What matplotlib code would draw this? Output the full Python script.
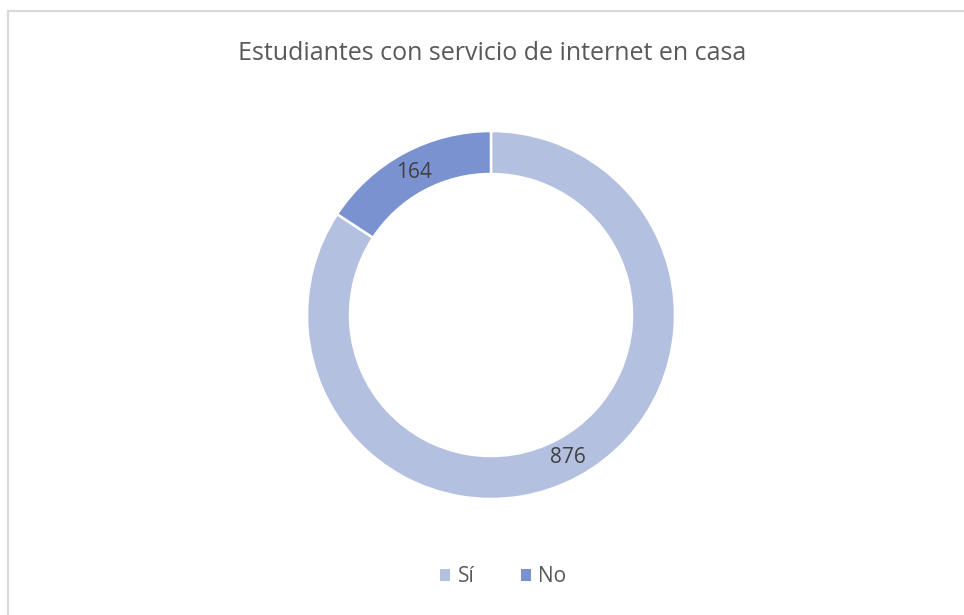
import matplotlib
matplotlib.use("Agg")
import matplotlib.pyplot as plt
from matplotlib.lines import Line2D
from matplotlib.patches import Patch
import numpy as np

title = "Estudiantes con servicio de internet en casa"
categories = ["Sí", "No"]
values = [876, 164]
colors = ["#B4C0E0", "#7A92D0"]

plt.rcParams['font.family'] = ['Open Sans', 'DejaVu Sans']

W, H = 964, 615
fig = plt.figure(figsize=(W / 100, H / 100), dpi=100)

# border
fig.add_artist(Line2D([7.5 / W, 7.5 / W], [0, 1 - 10.5 / H], color="#D9D9D9", lw=1.6))
fig.add_artist(Line2D([7.5 / W, 1], [1 - 10.5 / H, 1 - 10.5 / H], color="#D9D9D9", lw=1.6))

cx, cy, r = 491, 315, 184
ax = fig.add_axes([(cx - r) / W, (H - cy - r) / H, 2 * r / W, 2 * r / H])
wedges, texts = ax.pie(values, colors=colors, startangle=90, counterclock=False,
                       radius=1.0, wedgeprops=dict(width=1 - 141 / 184, edgecolor="white", linewidth=1.8))
mid = (1 + 141 / 184) / 2
total = sum(values)
start = 90.0
for v in values:
    span = v / total * 360
    ang = np.deg2rad(start - span / 2)
    ax.text(mid * np.cos(ang), mid * np.sin(ang), str(v), ha="center", va="center",
            fontsize=15, color="#404040")
    start -= span
ax.set_xlim(-1, 1)
ax.set_ylim(-1, 1)
ax.set_aspect("equal")
ax.axis("off")

fig.text(492 / W, 1 - 53 / H, title, ha="center", va="center", fontsize=18, color="#595959")

handles = [Patch(facecolor=c, edgecolor="none") for c in colors]
fig.legend(handles, categories, loc="center", bbox_to_anchor=(503.5 / W, 1 - 577 / H), ncol=2,
           frameon=False, fontsize=15, labelcolor="#595959", handlelength=0.48, handleheight=0.48,
           handletextpad=0.34, columnspacing=2.26, borderpad=0, borderaxespad=0)

fig.savefig("out.png", dpi=100, facecolor="white")
